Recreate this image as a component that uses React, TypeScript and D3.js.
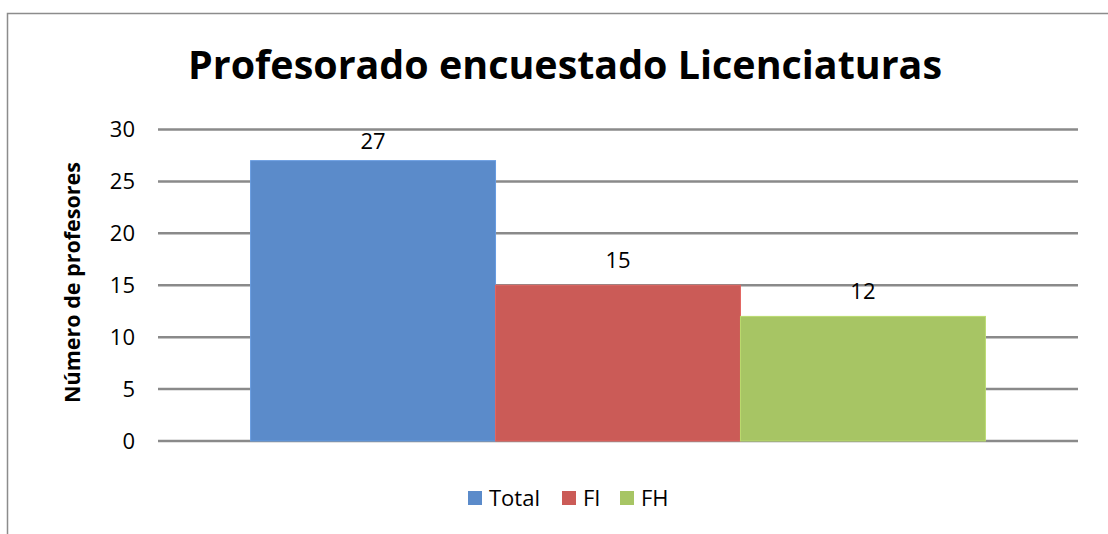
import { useEffect, useRef } from "react";
import * as d3 from "d3";

const series = ["Total", "FI", "FH"];
const values = [27, 15, 12];
const colors = ["#5b8bca", "#cb5b57", "#a7c564"];
const yTicks = [0, 5, 10, 15, 20, 25, 30];
const titleText = "Profesorado encuestado Licenciaturas";
const yAxisTitle = "Número de profesores";

const App = () => {
  const svgRef = useRef<SVGSVGElement>(null);

  useEffect(() => {
    const svg = d3.select(svgRef.current);
    svg.selectAll("*").remove();

    const font = "'Open Sans', 'Noto Sans', sans-serif";
    const plot = { left: 158, right: 1078, top: 129.5, bottom: 441 };

    // outer chart frame (continues past right and bottom edges)
    svg
      .append("rect")
      .attr("x", 7.5)
      .attr("y", 13.5)
      .attr("width", 1120)
      .attr("height", 540)
      .attr("fill", "#fff")
      .attr("stroke", "#8c8c8c")
      .attr("stroke-width", 1.5);

    const yScale = d3
      .scaleLinear()
      .domain([0, 30])
      .range([plot.bottom, plot.top]);

    const x0 = d3
      .scaleBand()
      .domain(["g"])
      .range([plot.left, plot.right])
      .paddingInner(0)
      .paddingOuter(0.126);

    const x1 = d3
      .scaleBand()
      .domain(series)
      .range([x0("g")!, x0("g")! + x0.bandwidth()]);

    // grid lines
    svg
      .selectAll(".grid")
      .data(yTicks)
      .enter()
      .append("line")
      .attr("x1", plot.left)
      .attr("x2", plot.right)
      .attr("y1", (d) => yScale(d))
      .attr("y2", (d) => yScale(d))
      .attr("stroke", "#8a8a8a")
      .attr("stroke-width", 2.5);

    // tick labels
    svg
      .selectAll(".tick-label")
      .data(yTicks)
      .enter()
      .append("text")
      .attr("x", 135)
      .attr("y", (d) => yScale(d))
      .attr("dy", "0.36em")
      .attr("text-anchor", "end")
      .attr("font-family", font)
      .attr("font-size", 22)
      .attr("fill", "#000")
      .text((d) => d);

    // bars
    svg
      .selectAll(".bar")
      .data(values)
      .enter()
      .append("rect")
      .attr("x", (d, i) => x1(series[i])!)
      .attr("y", (d) => yScale(d))
      .attr("width", x1.bandwidth())
      .attr("height", (d) => yScale(0) - yScale(d))
      .attr("fill", (d, i) => colors[i])
      .attr("stroke", (d, i) => d3.color(colors[i])!.brighter(0.3).toString())
      .attr("stroke-width", 1);

    // value labels
    svg
      .selectAll(".bar-label")
      .data(values)
      .enter()
      .append("text")
      .attr("x", (d, i) => x1(series[i])! + x1.bandwidth() / 2)
      .attr("y", (d) => Math.max(yScale(d) - 17, yScale(30) + 19.5))
      .attr("text-anchor", "middle")
      .attr("font-family", font)
      .attr("font-size", 22)
      .attr("fill", "#000")
      .text((d) => d);

    // title
    svg
      .append("text")
      .attr("x", 565)
      .attr("y", 79)
      .attr("text-anchor", "middle")
      .attr("font-family", font)
      .attr("font-weight", "bold")
      .attr("font-size", 39)
      .attr("textLength", 754)
      .attr("lengthAdjust", "spacingAndGlyphs")
      .attr("fill", "#000")
      .text(titleText);

    // y axis title
    svg
      .append("text")
      .attr("transform", `translate(80, ${(162 + 403) / 2}) rotate(-90)`)
      .attr("text-anchor", "middle")
      .attr("font-family", font)
      .attr("font-weight", "bold")
      .attr("font-size", 21)
      .attr("textLength", 241)
      .attr("lengthAdjust", "spacingAndGlyphs")
      .attr("fill", "#000")
      .text(yAxisTitle);

    // legend
    const legendX = [468, 562, 620];
    const legend = svg
      .selectAll(".legend-item")
      .data(series)
      .enter()
      .append("g")
      .attr("transform", (d, i) => `translate(${legendX[i]}, 491)`);

    legend
      .append("rect")
      .attr("width", 14)
      .attr("height", 14)
      .attr("fill", (d, i) => colors[i]);

    legend
      .append("text")
      .attr("x", 21)
      .attr("y", 15)
      .attr("font-family", font)
      .attr("font-size", 22)
      .attr("fill", "#000")
      .text((d) => d);
  }, []);

  return (
    <svg
      ref={svgRef}
      width={1108}
      height={534}
      style={{ position: "absolute", left: 0, top: 0, background: "#fff" }}
    ></svg>
  );
};

export default App;
